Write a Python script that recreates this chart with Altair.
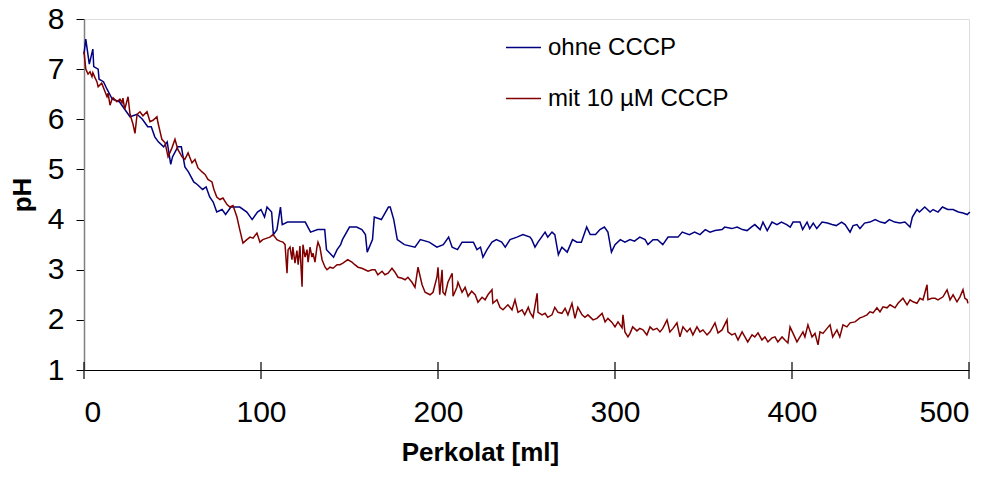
import altair as alt
import pandas as pd

# ---- data ----
blue_ml = [0, 1, 3, 5, 5.5, 8, 8.5, 11, 13, 16, 20, 23, 26, 30, 33, 36, 38, 40, 42, 45, 47, 49, 50, 53, 55, 57, 59,
           62, 64, 67, 69, 71, 73, 75, 78, 80, 83, 85, 88, 92, 95, 98, 100, 102, 103.4, 106, 107, 109, 111, 112,
           115, 122, 125, 128, 132, 136, 137, 141, 143, 145, 146, 150, 154, 157, 159, 160, 163, 164, 168, 172,
           173, 175, 177, 181, 187, 190, 195, 199.4, 203, 206, 208, 211, 213.6, 220, 222, 224, 225.4, 227.7,
           230.5, 233, 236, 238, 240.7, 244.6, 248, 252, 253, 254.8, 256.5, 260.5, 262, 264.4, 266, 268, 270,
           273, 276, 278.5, 281, 284, 286, 289, 291.5, 294, 296, 298, 300, 303, 305.6, 308.5, 311, 314, 317,
           318.6, 321.5, 324, 327, 330, 333, 335.6, 338, 342, 345, 348, 351, 353.7, 356.5, 360.5, 362, 366, 369,
           372, 374.6, 377, 379, 382, 383.6, 386, 388.7, 391.5, 394, 397, 399, 400.6, 404.5, 406, 408.5, 410,
           412, 414, 417, 420, 422.6, 425, 428, 430, 432.8, 434.5, 436.7, 438.4, 441, 444, 447, 450, 452.5, 455,
           458, 461, 463.8, 466.7, 468, 470.6, 472, 475, 478, 479.7, 482.5, 485, 488, 491, 494, 496.6, 499, 500.5]
blue_ph = [7.3, 7.6, 7.1, 7.4, 7.05, 7.0, 6.8, 6.75, 6.6, 6.4, 6.35, 6.2, 6.05, 6.1, 6.0, 5.85, 5.85, 5.65, 5.55,
           5.45, 5.55, 5.1, 5.25, 5.45, 5.45, 5.05, 4.95, 4.75, 4.7, 4.6, 4.65, 4.45, 4.35, 4.15, 4.2, 4.1, 4.25,
           4.25, 4.25, 4.15, 4.0, 4.15, 4.2, 4.05, 4.25, 4.15, 3.7, 3.8, 4.25, 3.9, 3.95, 3.95, 3.95, 3.75, 3.8,
           3.8, 3.4, 3.25, 3.4, 3.5, 3.6, 3.85, 3.85, 3.8, 3.7, 3.35, 3.6, 4.05, 4.0, 4.25, 4.25, 4.0, 3.6, 3.5,
           3.45, 3.6, 3.55, 3.45, 3.5, 3.65, 3.45, 3.4, 3.55, 3.55, 3.4, 3.45, 3.25, 3.4, 3.55, 3.6, 3.55, 3.45,
           3.6, 3.65, 3.7, 3.65, 3.6, 3.45, 3.55, 3.75, 3.65, 3.75, 3.7, 3.3, 3.45, 3.35, 3.6, 3.55, 3.55, 3.85,
           3.7, 3.7, 3.8, 3.85, 3.75, 3.35, 3.5, 3.6, 3.55, 3.6, 3.57, 3.65, 3.6, 3.5, 3.6, 3.6, 3.5, 3.65, 3.65,
           3.65, 3.75, 3.7, 3.75, 3.7, 3.8, 3.75, 3.78, 3.8, 3.85, 3.82, 3.85, 3.8, 3.78, 3.85, 3.9, 3.8, 3.95,
           3.78, 3.95, 3.9, 3.95, 3.9, 3.85, 3.95, 3.95, 3.8, 3.95, 3.82, 3.93, 3.82, 3.95, 3.93, 3.9, 3.88, 3.95,
           3.9, 3.75, 3.88, 3.9, 3.82, 3.93, 3.95, 4.0, 3.95, 3.93, 4.0, 3.95, 3.93, 3.95, 3.85, 4.05, 4.2, 4.15,
           4.25, 4.15, 4.2, 4.15, 4.25, 4.2, 4.2, 4.15, 4.13, 4.1, 4.15]

red_ml = [0, 1, 2.3, 3.4, 4.5, 5, 6.2, 7.3, 8, 10, 11.9, 13, 13.6, 14.7, 15.8, 16.4, 18.6, 20.3, 21.5, 22, 23,
          24.9, 26, 27.7, 28.8, 30, 31.6, 33.3, 35.6, 37.3, 39, 41.2, 41.8, 44, 45.8, 47.5, 49.7, 51.4, 53, 55.4,
          57, 58.8, 61, 62.7, 64.4, 66.7, 68.4, 70, 72.3, 73.4, 75, 76.8, 78.5, 80.8, 82.5, 84.2, 86.4, 88, 89.8,
          92, 93.8, 95.5, 97.7, 99.4, 101, 103.4, 105, 106.8, 109, 110.7, 112.4, 113.6, 114.7, 115.3, 116.4,
          117.5, 118, 119.2, 120.3, 121, 122, 123.2, 123.7, 124.9, 126, 126.6, 127.7, 128.8, 129.4, 130.5, 131.6,
          132.2, 133.3, 134.5, 136.2, 137.3, 139, 140.7, 143, 144.6, 146.3, 149, 151.4, 153, 154.8, 157, 158.8,
          160.5, 162.7, 164.4, 166, 168.4, 170, 171.8, 174, 175.7, 177.4, 179.7, 181.4, 183, 185.3, 187, 188.7,
          191, 192.7, 195.5, 197.2, 199.4, 200, 201, 202.3, 202.8, 204, 205.6, 208, 208.5, 210.7, 211.3, 213.6,
          215.3, 217, 219, 221, 222.6, 224.9, 226.6, 228.2, 230.5, 231, 233.3, 235, 236.7, 239.5, 241.8, 243.5,
          245.2, 247.5, 249, 251, 252, 253.7, 256, 256.5, 258.8, 260.5, 262, 264.4, 266, 267.8, 270, 271.8,
          273.4, 275.7, 277.4, 279, 281.4, 283, 284.7, 287.6, 289.8, 292.7, 294.4, 296, 298.3, 300, 301.7, 304,
          304.5, 305.6, 307.3, 308.5, 310, 312.4, 314, 315.8, 318, 319.8, 321.5, 323.7, 325.4, 327, 329.4, 331,
          332.8, 335, 336.7, 338.4, 340.7, 342.4, 344, 346.3, 348, 349.7, 352, 353.7, 356.5, 358.2, 360.5, 363.3,
          363.8, 366, 367.8, 369.5, 371.8, 373.4, 375, 377.4, 379, 380.8, 383, 384.7, 386.4, 388.7, 390.4, 392,
          394.4, 396, 397.7, 398.9, 400.6, 402.8, 404.5, 406.2, 407.3, 409, 411.3, 413, 414.7, 415.8, 417.5,
          419.8, 421.5, 423, 425.4, 427, 428.8, 431, 432.8, 435.6, 438.4, 440, 442.4, 444, 445.8, 448, 449.7,
          451.4, 453.7, 455.4, 458.2, 459.9, 462.7, 465, 466.7, 468.4, 470.6, 472.3, 474, 476.3, 476.8, 479,
          480.8, 482.5, 485.3, 487.6, 489.3, 491, 493.2, 494.9, 496.6, 497.7, 498.9, 499.4]
red_ph = [7.35, 7.0, 6.9, 6.95, 6.85, 6.93, 6.83, 6.75, 6.65, 6.72, 6.55, 6.45, 6.52, 6.28, 6.4, 6.43, 6.35, 6.4,
          6.33, 6.42, 6.2, 6.45, 6.1, 5.9, 5.72, 6.1, 6.15, 6.07, 6.15, 5.95, 5.98, 6.05, 5.93, 5.6, 5.53, 5.25,
          5.43, 5.6, 5.4, 5.25, 5.2, 5.33, 5.13, 5.2, 5.03, 4.95, 4.9, 4.8, 4.75, 4.6, 4.45, 4.4, 4.43, 4.3, 4.25,
          4.28, 4.05, 3.8, 3.53, 3.6, 3.65, 3.63, 3.73, 3.55, 3.6, 3.63, 3.65, 3.7, 3.6, 3.57, 3.55, 3.5, 2.93,
          3.4, 3.45, 3.2, 3.45, 3.13, 3.38, 3.1, 3.47, 2.66, 3.5, 3.25, 3.4, 3.15, 3.45, 3.25, 3.33, 3.15, 3.45,
          3.55, 3.45, 3.2, 3.05, 3.0, 3.05, 3.03, 3.1, 3.1, 3.13, 3.2, 3.15, 3.1, 3.05, 3.03, 3.0, 2.97, 3.0, 3.0,
          2.9, 2.97, 2.9, 2.93, 3.03, 2.95, 2.85, 2.83, 2.8, 2.85, 2.75, 2.65, 3.05, 2.7, 2.55, 2.5, 2.55, 2.85,
          3.05, 2.5, 3.0, 2.55, 2.5, 2.75, 2.93, 2.47, 2.65, 2.75, 2.55, 2.65, 2.47, 2.57, 2.5, 2.35, 2.45, 2.4,
          2.5, 2.6, 2.33, 2.4, 2.25, 2.2, 2.3, 2.2, 2.4, 2.15, 2.2, 2.1, 2.25, 2.15, 2.05, 2.53, 2.15, 2.1, 2.13,
          2.05, 2.1, 2.25, 2.15, 2.13, 2.23, 2.1, 2.33, 2.03, 2.25, 2.1, 2.05, 2.1, 2.0, 2.03, 2.13, 1.96, 2.03,
          1.95, 1.86, 1.96, 1.84, 2.1, 1.76, 1.66, 1.73, 1.86, 1.78, 1.83, 1.8, 1.7, 1.86, 1.8, 1.83, 1.76, 1.83,
          2.0, 1.76, 1.83, 1.94, 1.66, 1.86, 1.76, 1.83, 1.7, 1.86, 1.76, 1.8, 1.7, 1.76, 1.94, 1.74, 1.8, 2.0,
          1.76, 1.7, 1.73, 1.6, 1.76, 1.66, 1.56, 1.7, 1.66, 1.74, 1.6, 1.66, 1.56, 1.64, 1.66, 1.56, 1.66, 1.6,
          1.54, 1.86, 1.73, 1.56, 1.66, 1.76, 1.66, 1.9, 1.66, 1.73, 1.5, 1.76, 1.73, 1.83, 1.9, 1.66, 1.8, 1.66,
          1.9, 1.86, 1.94, 1.96, 2.04, 2.06, 2.1, 2.16, 2.14, 2.24, 2.16, 2.26, 2.24, 2.3, 2.24, 2.33, 2.43, 2.3,
          2.4, 2.36, 2.33, 2.43, 2.4, 2.7, 2.4, 2.43, 2.43, 2.4, 2.46, 2.6, 2.4, 2.5, 2.36, 2.46, 2.6, 2.43, 2.4,
          2.33]

series_names = ["ohne CCCP", "mit 10 µM CCCP"]
series_colors = ["#000080", "#800000"]
x_ticks = [0, 100, 200, 300, 400, 500]
y_ticks = [1, 2, 3, 4, 5, 6, 7, 8]
y_min, y_max = 1, 8

df = pd.concat([
    pd.DataFrame({"ml": blue_ml, "ph": blue_ph, "serie": series_names[0]}),
    pd.DataFrame({"ml": red_ml, "ph": red_ph, "serie": series_names[1]}),
], ignore_index=True)
tick_df = pd.DataFrame({"ml": x_ticks, "ph": [y_min] * len(x_ticks)})

FONT = "Liberation Sans"

x_scale = alt.Scale(domain=[0, 500], nice=False, zero=False)
y_scale = alt.Scale(domain=[y_min, y_max], nice=False, zero=False)

lines = alt.Chart(df).mark_line(strokeWidth=1.5, clip=False).encode(
    x=alt.X("ml:Q", scale=x_scale,
            axis=alt.Axis(title="Perkolat [ml]", values=x_ticks, ticks=False, grid=False,
                          domainColor="#000000", domainWidth=1,
                          labelFontSize=30, labelFont=FONT, labelColor="#000000", labelPadding=27,
                          titleFontSize=26, titleFont=FONT, titleFontWeight="bold", titleColor="#000000",
                          titleX=396, titleY=82, titleBaseline="middle", titleAlign="center")),
    y=alt.Y("ph:Q", scale=y_scale,
            axis=alt.Axis(title="pH", values=y_ticks, grid=False, tickSize=8, tickColor="#000000",
                          tickWidth=1, domainColor="#808080", domainWidth=1.5,
                          labelFontSize=30, labelFont=FONT, labelColor="#000000", labelPadding=12,
                          titleFontSize=26, titleFont=FONT, titleFontWeight="bold", titleColor="#000000",
                          titleX=-62, titleBaseline="middle")),
    color=alt.Color("serie:N", scale=alt.Scale(domain=series_names, range=series_colors),
                    legend=alt.Legend(title=None, orient="none", legendX=421, legendY=10,
                                      symbolType="stroke", symbolSize=1225, symbolStrokeWidth=1.5,
                                      labelFontSize=24, labelFont=FONT, labelColor="#000000",
                                      labelLimit=0, labelOffset=6, rowPadding=20, padding=0)),
)

# x-axis tick marks that cross the axis line (drawn at the tick values on the axis baseline)
xticks = alt.Chart(tick_df).mark_rule(color="#000000", strokeWidth=1.2, yOffset=-8, y2Offset=9).encode(
    x=alt.X("ml:Q", scale=x_scale),
    y=alt.Y("ph:Q", scale=y_scale),
    y2=alt.Y2("ph:Q"),
)

chart = alt.layer(lines, xticks).properties(
    width=885, height=351,
    autosize=alt.AutoSizeParams(type="none"),
    padding={"left": 76, "top": 11, "right": 15, "bottom": 110},
).configure_view(stroke=None).configure(font=FONT)

chart.save("out.html", embed_options={"renderer": "svg", "actions": False})
